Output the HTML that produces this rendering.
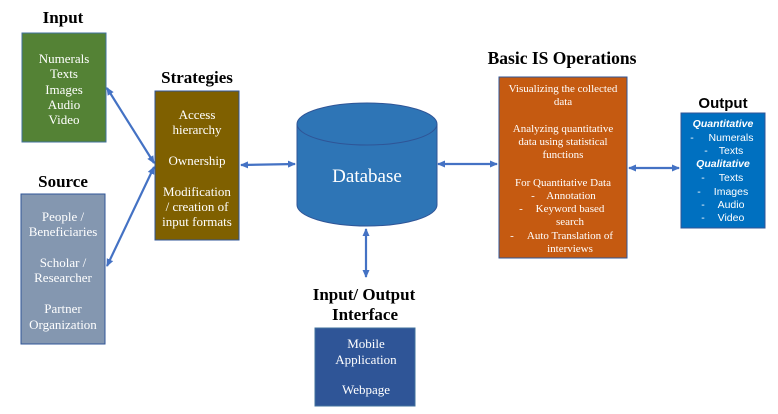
<!DOCTYPE html>
<html><head><meta charset="utf-8"><style>
html,body{margin:0;padding:0;background:#fff;}
svg{display:block}
.s{font-family:"Liberation Serif",serif;fill:#fff}
.h{font-family:"Liberation Serif",serif;font-weight:bold;fill:#000}
.c{font-family:"Liberation Sans",sans-serif;fill:#fff}
</style></head><body>
<svg width="778" height="414" viewBox="0 0 778 414" xmlns="http://www.w3.org/2000/svg">
<defs>
<marker id="a" markerWidth="8" markerHeight="8" refX="7" refY="4" orient="auto-start-reverse" markerUnits="userSpaceOnUse">
<path d="M0,0.5 L8,4 L0,7.5 z" fill="#4472c4"/></marker>
</defs>
<g stroke="#4472c4" stroke-width="2.2" fill="none" marker-start="url(#a)" marker-end="url(#a)">
<line x1="107" y1="88" x2="154" y2="163"/>
<line x1="107" y1="266" x2="154" y2="167"/>
<line x1="241" y1="165" x2="295" y2="164"/>
<line x1="438" y1="164" x2="497" y2="164"/>
<line x1="629" y1="168" x2="679" y2="168"/>
<line x1="366" y1="229" x2="366" y2="277"/>
</g>
<text class="h" x="63" y="23" font-size="17" text-anchor="middle">Input</text>
<rect x="22" y="33" width="84" height="109" fill="#548235" stroke="#41719c" stroke-width="1"/>
<g class="s" font-size="13" text-anchor="middle">
<text x="64" y="63">Numerals</text><text x="64" y="78">Texts</text><text x="64" y="94">Images</text><text x="64" y="109">Audio</text><text x="64" y="124">Video</text>
</g>
<text class="h" x="63" y="187" font-size="17" text-anchor="middle">Source</text>
<rect x="21" y="194" width="84" height="150" fill="#8497b0" stroke="#2f5597" stroke-width="1"/>
<g class="s" font-size="13" text-anchor="middle">
<text x="63" y="221">People /</text><text x="63" y="236">Beneficiaries</text>
<text x="63" y="267">Scholar /</text><text x="63" y="282">Researcher</text>
<text x="63" y="313">Partner</text><text x="63" y="329">Organization</text>
</g>
<text class="h" x="197" y="83" font-size="17" text-anchor="middle">Strategies</text>
<rect x="155" y="91" width="84" height="149" fill="#7f6000" stroke="#2f5597" stroke-width="1"/>
<g class="s" font-size="13" text-anchor="middle">
<text x="197" y="119">Access</text><text x="197" y="134">hierarchy</text>
<text x="197" y="165">Ownership</text>
<text x="197" y="196">Modification</text><text x="197" y="211">/ creation of</text><text x="197" y="226">input formats</text>
</g>
<path d="M297,124 L297,205 A70,21 0 0 0 437,205 L437,124" fill="#2e75b6" stroke="#2f5597" stroke-width="1"/>
<ellipse cx="367" cy="124" rx="70" ry="21" fill="#2e75b6" stroke="#2f5597" stroke-width="1"/>
<text class="s" x="367" y="182" font-size="19" text-anchor="middle">Database</text>
<text class="h" x="562" y="64" font-size="17.5" text-anchor="middle">Basic IS Operations</text>
<rect x="499" y="77" width="128" height="181" fill="#c55a11" stroke="#2f5597" stroke-width="1"/>
<g class="s" font-size="11" text-anchor="middle">
<text x="563" y="92">Visualizing the collected</text><text x="563" y="105">data</text>
<text x="563" y="132">Analyzing quantitative</text><text x="563" y="145">data using statistical</text><text x="563" y="158">functions</text>
<text x="563" y="186">For Quantitative Data</text>
<text x="533" y="199">-</text><text x="571" y="199">Annotation</text>
<text x="521" y="212">-</text><text x="570" y="212">Keyword based</text>
<text x="570" y="225">search</text>
<text x="512" y="239">-</text><text x="570" y="239">Auto Translation of</text>
<text x="570" y="252">interviews</text>
</g>
<text x="723" y="108" font-size="15" font-weight="bold" text-anchor="middle" font-family="Liberation Sans,sans-serif">Output</text>
<rect x="681" y="113" width="84" height="115" fill="#0070c0" stroke="#2f5597" stroke-width="1"/>
<g class="c" font-size="10.5" text-anchor="middle">
<text x="723" y="127" font-weight="bold" font-style="italic">Quantitative</text>
<text x="692" y="141">-</text><text x="731" y="141">Numerals</text>
<text x="706" y="154">-</text><text x="731" y="154">Texts</text>
<text x="723" y="167" font-weight="bold" font-style="italic">Qualitative</text>
<text x="703" y="181">-</text><text x="731" y="181">Texts</text>
<text x="699" y="195">-</text><text x="731" y="195">Images</text>
<text x="703" y="208">-</text><text x="731" y="208">Audio</text>
<text x="703" y="221">-</text><text x="731" y="221">Video</text>
</g>
<text class="h" x="364" y="300" font-size="17" text-anchor="middle">Input/ Output</text>
<text class="h" x="365" y="320" font-size="17" text-anchor="middle">Interface</text>
<rect x="315" y="328" width="100" height="78" fill="#2f5597" stroke="#41719c" stroke-width="1"/>
<g class="s" font-size="13" text-anchor="middle">
<text x="366" y="348">Mobile</text><text x="366" y="364">Application</text><text x="366" y="394">Webpage</text>
</g>
</svg>
</body></html>
